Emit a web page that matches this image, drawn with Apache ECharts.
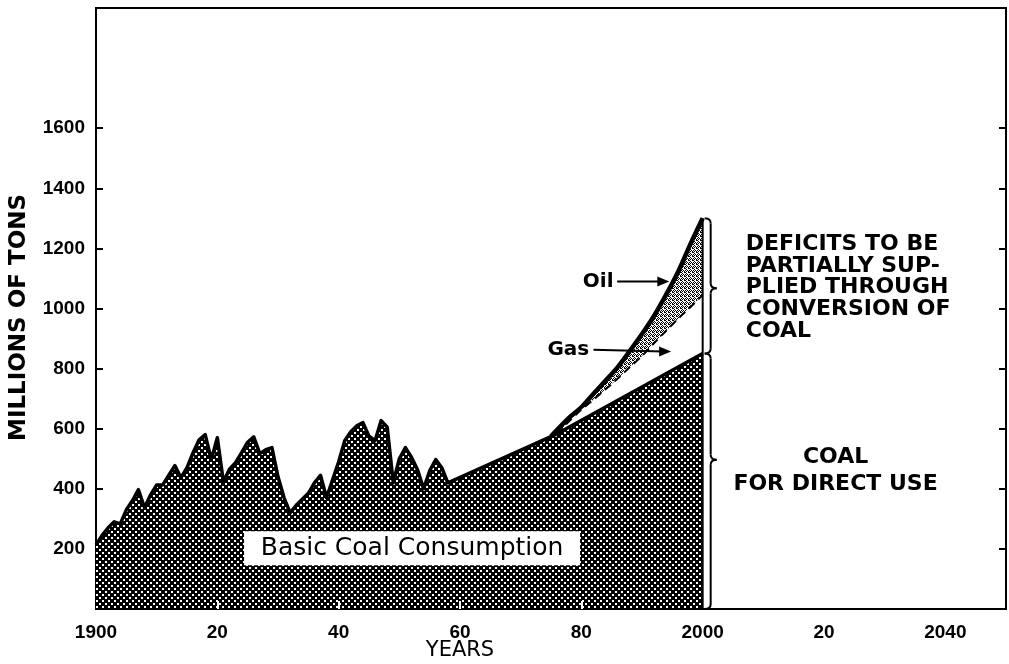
<!DOCTYPE html>
<html>
<head>
<meta charset="utf-8">
<script src="https://cdn.jsdelivr.net/npm/echarts/dist/echarts.min.js"></script>
<style>
html, body { margin: 0; padding: 0; background: #fff; }
#main { width: 1009px; height: 664px; }
</style>
</head>
<body>
<div id="main"></div>
<script>
// basic coal consumption (millions of tons)
const coalYears = [1900, 1901, 1902, 1903, 1904, 1905, 1906, 1907, 1908, 1909,
	1910, 1911, 1912, 1913, 1914, 1915, 1916, 1917, 1918, 1919,
	1920, 1921, 1922, 1923, 1924, 1925, 1926, 1927, 1928, 1929,
	1930, 1931, 1932, 1933, 1934, 1935, 1936, 1937, 1938, 1939,
	1940, 1941, 1942, 1943, 1944, 1945, 1946, 1947, 1948, 1949,
	1950, 1951, 1952, 1953, 1954, 1955, 1956, 1957, 1958, 1976, 2000]
const coalValues = [213, 245, 270, 290, 283, 330, 360, 397, 337, 380,
	413, 413, 445, 477, 437, 470, 520, 563, 580, 497,
	570, 423, 465, 487, 520, 555, 573, 517, 530, 537,
	440, 370, 320, 345, 365, 385, 420, 445, 370, 430,
	490, 560, 590, 610, 620, 575, 560, 627, 605, 420,
	500, 537, 505, 463, 400, 460, 497, 470, 420, 583, 850]

// total requirement = top of the oil band
const oilYears = [1975, 1978, 1980, 1982, 1984, 1986, 1988, 1990, 1992, 1994, 1996, 1998, 2000]
const oilValues = [575, 637, 671, 716, 760, 805, 859, 915, 976, 1047, 1124, 1215, 1300]

// top of the gas band
const gasYears = [1976, 1978, 1980, 1982, 1984, 1986, 1988, 1990, 1992, 1994, 1996, 1998, 2000]
const gasValues = [583, 625, 663, 697, 731, 767, 805, 842, 885, 926, 967, 1005, 1045]

const xTickValues = [1900, 1920, 1940, 1960, 1980, 2000, 2020, 2040]
const xTickLabels = ['1900', '20', '40', '60', '80', '2000', '20', '2040']
const xInnerTicks = [1920, 1940, 1960, 1980]
const yTickValues = [200, 400, 600, 800, 1000, 1200, 1400, 1600]

const pairs = (xs, ys) => xs.map((x, i) => [x, ys[i]])

// small repeat tiles for the hatched fills
function makePattern(size, bg, fg, dots, dot) {
	const c = document.createElement('canvas')
	c.width = size
	c.height = size
	const ctx = c.getContext('2d')
	ctx.fillStyle = bg
	ctx.fillRect(0, 0, size, size)
	ctx.fillStyle = fg
	dots.forEach((d) => ctx.fillRect(d[0], d[1], dot, dot))
	return c
}
const coalPattern = makePattern(6, '#000', '#fff', [[0, 0], [3, 3]], 2)
const oilPattern = makePattern(4, '#fff', '#000', [[0, 0], [1, 0], [2, 1], [1, 2], [3, 2], [2, 3], [0, 3]], 1)

const labelFont = 'Liberation Sans'
const textFont = 'DejaVu Sans'

const option = {
	animation: false,
	backgroundColor: '#fff',
	grid: {
		left: 93,
		right: 3,
		top: 8,
		bottom: 55,
		show: true,
		borderColor: '#000',
		borderWidth: 2
	},
	xAxis: {
		type: 'value',
		min: 1900,
		max: 2050,
		interval: 20,
		z: 10,
		axisLine: { lineStyle: { color: '#000', width: 2 } },
		axisTick: {
			inside: true,
			length: 8,
			customValues: xInnerTicks,
			lineStyle: { color: '#fff', width: 2 }
		},
		axisLabel: {
			customValues: xTickValues,
			formatter: (v) => xTickLabels[xTickValues.indexOf(v)] || '',
			color: '#000',
			fontFamily: labelFont,
			fontWeight: 'bold',
			fontSize: 19,
			margin: 14
		},
		splitLine: { show: false }
	},
	yAxis: [
		{
			type: 'value',
			min: 0,
			max: 2000,
			interval: 200,
			position: 'left',
			name: 'MILLIONS OF TONS',
			nameLocation: 'middle',
			nameGap: 65,
			nameTextStyle: {
				color: '#000',
				fontFamily: textFont,
				fontWeight: 'bold',
				fontSize: 23,
				padding: [0, 18, 0, 0]
			},
			axisLine: { show: true, lineStyle: { color: '#000', width: 2 } },
			axisTick: {
				inside: true,
				length: 7,
				customValues: yTickValues,
				lineStyle: { color: '#000', width: 2 }
			},
			axisLabel: {
				customValues: yTickValues,
				formatter: (v) => String(v),
				color: '#000',
				fontFamily: labelFont,
				fontWeight: 'bold',
				fontSize: 19,
				margin: 11
			},
			splitLine: { show: false }
		},
		{
			type: 'value',
			min: 0,
			max: 2000,
			interval: 200,
			position: 'right',
			axisLine: { show: true, lineStyle: { color: '#000', width: 2 } },
			axisTick: {
				inside: true,
				length: 7,
				customValues: yTickValues,
				lineStyle: { color: '#000', width: 2 }
			},
			axisLabel: { show: false },
			splitLine: { show: false }
		}
	],
	series: [
		{
			name: 'Oil',
			type: 'line',
			z: 2,
			smooth: 0.3,
			symbol: 'none',
			data: pairs(oilYears, oilValues),
			lineStyle: { color: '#000', width: 4.5 },
			areaStyle: { color: { image: oilPattern, repeat: 'repeat' }, opacity: 1 }
		},
		{
			name: 'Gas',
			type: 'line',
			z: 3,
			smooth: 0.3,
			symbol: 'none',
			data: pairs(gasYears, gasValues),
			lineStyle: { color: '#000', width: 2, type: [8, 5] },
			areaStyle: { color: '#fff', opacity: 1 }
		},
		{
			name: 'Basic Coal Consumption',
			type: 'line',
			z: 4,
			symbol: 'none',
			data: pairs(coalYears, coalValues),
			lineStyle: { color: '#000', width: 3.5, join: 'round' },
			areaStyle: { color: { image: coalPattern, repeat: 'repeat' }, opacity: 1 }
		},
		{
			// right edge of the areas at 2000
			type: 'line',
			z: 5,
			symbol: 'none',
			data: [[2000, 0], [2000, oilValues[oilValues.length - 1]]],
			lineStyle: { color: '#000', width: 2 }
		}
	]
}

const chart = echarts.init(document.getElementById('main'))
chart.setOption(option)

const px = (x, y) => chart.convertToPixel({ gridIndex: 0 }, [x, y])
const ink = { stroke: '#000', lineWidth: 2, fill: null }

// curly brace built from quadratic curves and straight lines
function brace(x, y1, y2, ym, w) {
	const h = w / 2
	const r = 5
	const parts = [
		{ x1: x, y1: y1, cpx1: x + h, cpy1: y1, x2: x + h, y2: y1 + r },
		{ x1: x + h, y1: ym - r, cpx1: x + h, cpy1: ym, x2: x + w, y2: ym },
		{ x1: x + w, y1: ym, cpx1: x + h, cpy1: ym, x2: x + h, y2: ym + r },
		{ x1: x + h, y1: y2 - r, cpx1: x + h, cpy1: y2, x2: x, y2: y2 }
	]
	const els = parts.map((s) => ({ type: 'bezierCurve', z: 100, shape: s, style: ink }))
	els.push({ type: 'line', z: 100, shape: { x1: x + h, y1: y1 + r, x2: x + h, y2: ym - r }, style: ink })
	els.push({ type: 'line', z: 100, shape: { x1: x + h, y1: ym + r, x2: x + h, y2: y2 - r }, style: ink })
	return els
}

function arrow(from, to) {
	const a = px(from[0], from[1])
	const b = px(to[0], to[1])
	return [
		{ type: 'line', z: 100, shape: { x1: a[0], y1: a[1], x2: b[0] - 8, y2: b[1] }, style: ink },
		{ type: 'polygon', z: 100, shape: { points: [[b[0], b[1]], [b[0] - 12, b[1] - 5], [b[0] - 12, b[1] + 5]] }, style: { fill: '#000' } }
	]
}

function text(str, p, font, align, vAlign, lineHeight) {
	return {
		type: 'text',
		z: 100,
		style: {
			text: str,
			x: p[0],
			y: p[1],
			font: font,
			fill: '#000',
			textAlign: align,
			textVerticalAlign: vAlign,
			align: align,
			verticalAlign: vAlign,
			lineHeight: lineHeight
		}
	}
}

const topV = oilValues[oilValues.length - 1]
const coalEnd = coalValues[coalValues.length - 1]
const pTop = px(2000, topV)
const pMid = px(2000, coalEnd)
const pBot = px(2000, 0)
const pTip1 = px(2000, 1067)
const pTip2 = px(2000, 497)

const boxC = px(1952.1, 202)
const graphics = [
	...brace(pTop[0] + 2, pTop[1], pMid[1], pTip1[1], 12),
	...brace(pMid[0] + 2, pMid[1], pBot[1], pTip2[1], 12),
	{ type: 'rect', z: 99, shape: { x: boxC[0] - 168, y: boxC[1] - 17, width: 336, height: 34 }, style: { fill: '#fff' } },
	text('Basic Coal Consumption', boxC, '25px "DejaVu Sans"', 'center', 'middle'),
	text('Oil', px(1985.3, 1090), 'bold 20px "DejaVu Sans"', 'right', 'middle'),
	text('Gas', px(1981.3, 863), 'bold 20px "DejaVu Sans"', 'right', 'middle'),
	...arrow([1985.9, 1090], [1994.5, 1090]),
	...arrow([1982, 863], [1994.8, 857]),
	text('DEFICITS TO BE\nPARTIALLY SUP-\nPLIED THROUGH\nCONVERSION OF\nCOAL', px(2007.1, 1250), 'bold 22px "DejaVu Sans"', 'left', 'top', 21.7),
	text('COAL\nFOR DIRECT USE', px(2021.9, 550), 'bold 22px "DejaVu Sans"', 'center', 'top', 27),
	text('YEARS', [px(1960, 0)[0], 651], '21px "DejaVu Sans"', 'center', 'middle')
]
chart.setOption({ graphic: graphics })
</script>
</body>
</html>
